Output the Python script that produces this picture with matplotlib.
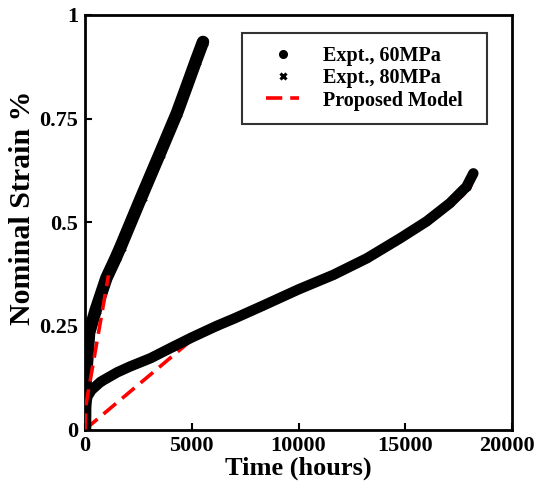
import matplotlib
matplotlib.use("Agg")
import matplotlib.pyplot as plt
from matplotlib.lines import Line2D
from matplotlib.path import Path
from matplotlib.transforms import ScaledTranslation

# 60 MPa experimental data (hours, strain %)
t60 = [0, 20, 50, 110, 300, 730, 1510, 2110, 3070, 4140, 5000, 6170, 7000, 8300,
       10000, 11630, 13200, 14750, 16000, 17090, 17870, 18190]
s60 = [0, 0.04, 0.06, 0.079, 0.095, 0.115, 0.138, 0.152, 0.172, 0.2, 0.222, 0.25,
       0.268, 0.298, 0.338, 0.373, 0.413, 0.461, 0.502, 0.546, 0.586, 0.618]

# 80 MPa experimental data
t80 = [0, 10, 40, 100, 190, 500, 1000, 1450, 1670, 2650, 3500, 4310, 4800, 5200, 5527]
s80 = [0, 0.08, 0.13, 0.165, 0.233, 0.288, 0.365, 0.415, 0.441, 0.562, 0.665, 0.764,
       0.833, 0.89, 0.935]

# Proposed model
tm60 = [0, 5390, 6170, 7000, 8300, 10000, 11630, 13200, 14750, 16000, 17090, 17700, 18100]
sm60 = [0, 0.233, 0.25, 0.268, 0.298, 0.338, 0.373, 0.413, 0.461, 0.502, 0.54, 0.565, 0.59]
tm80 = [0, 30, 1100]
sm80 = [0, 0.055, 0.372]

xticks = [0, 5000, 10000, 15000, 20000]
xticklabels = ["0", "5000", "10000", "15000", "20000"]
yticks = [0, 0.25, 0.5, 0.75, 1.0]
yticklabels = ["0", "0.25", "0.5", "0.75", "1"]

plt.rcParams['font.family'] = ['Liberation Serif', 'DejaVu Serif']
plt.rcParams['font.weight'] = 'bold'

fig = plt.figure(figsize=(5.34, 4.94), dpi=100)
ax = fig.add_axes([85 / 534, 64.5 / 494, 427 / 534, 414.5 / 494])

red = '#ff0000'
ax.plot(tm60, sm60, color=red, lw=2.6, dashes=(4.5, 2.2), zorder=2)
ax.plot(tm80, sm80, color=red, lw=2.6, dashes=(4.5, 2.2), zorder=4)

ax.plot(t60, s60, color='black', lw=7.5, marker='o', ms=5, solid_capstyle='round',
        solid_joinstyle='round', zorder=3)
ax.plot(t80, s80, color='black', lw=9, marker='x', ms=6, mew=2.5, solid_capstyle='round',
        solid_joinstyle='round', zorder=3)

ax.set_xlim(0, 20000)
ax.set_ylim(0, 1)
ax.set_xticks(xticks)
ax.set_xticklabels(xticklabels)
ax.set_yticks(yticks)
ax.set_yticklabels(yticklabels)
ax.tick_params(direction='in', length=5, width=1.5, labelsize=16, pad=5)
for lab in ax.get_xticklabels() + ax.get_yticklabels():
    lab.set_fontweight('bold')
last = ax.get_xticklabels()[-1]
last.set_transform(last.get_transform() + ScaledTranslation(-5 / 100, 0, fig.dpi_scale_trans))
for sp in ax.spines.values():
    sp.set_linewidth(2)

ax.set_xlabel('Time (hours)', fontsize=19, fontweight='bold', labelpad=0)
ax.set_ylabel('Nominal Strain %', fontsize=21.5, fontweight='bold')
ax.yaxis.set_label_coords(-0.115, 0.536)

handles = [
    Line2D([], [], color='black', marker='o', ls='none', ms=5.5),
    Line2D([], [], color='black', marker='x', ls='none', ms=5, mew=2.2),
    Line2D([], [], color=red, lw=2.6, dashes=(4.5, 2.2)),
]
labels = ['Expt., 60MPa', 'Expt., 80MPa', 'Proposed Model']
leg = ax.legend(handles, labels, loc='upper right', bbox_to_anchor=((476.5 - 85) / 427, 0.9566),
                fontsize=14.5, frameon=True, fancybox=False, edgecolor='black',
                borderpad=0.67, handlelength=1.64, handletextpad=1.19, labelspacing=0.1,
                borderaxespad=0)


def wide_box(x0, y0, width, height, mutation_size):
    dx = 10.5
    x0 -= dx
    width += 2 * dx
    verts = [(x0, y0), (x0 + width, y0), (x0 + width, y0 + height), (x0, y0 + height), (x0, y0)]
    return Path(verts, closed=True)


leg.get_frame().set_boxstyle(wide_box)
leg.get_frame().set_linewidth(1.5)
for t in leg.get_texts():
    t.set_fontweight('bold')

fig.savefig('out.png', dpi=100)
